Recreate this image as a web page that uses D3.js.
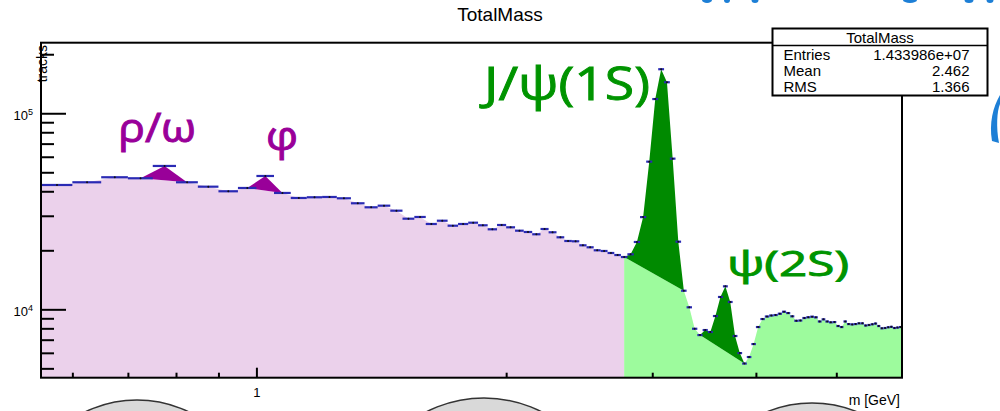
<!DOCTYPE html>
<html>
<head>
<meta charset="utf-8">
<script src="https://cdn.jsdelivr.net/npm/d3@7"></script>
<style>
  body { margin: 0; background: #fff; }
  svg { display: block; }
  text { font-family: "Liberation Sans", Arial, sans-serif; }
  .note { font-family: "Open Sans", sans-serif; }
</style>
</head>
<body>
<svg id="chart" width="1000" height="411"></svg>
<script>
// Histogram "TotalMass": 0.05 GeV bins from 0.55 to 6.0 GeV, track counts per bin
const massMin = 0.55;
const massMax = 6.0;
const binWidth = 0.05;
const counts = [
  43070, 44460, 47160, 46600, 53850, 44460, 42220, 40000, 41580, 47870,
  39220, 36980, 37280, 37410, 36840, 34740, 33140, 33780, 31850, 28990,
  29580, 27240, 28310, 26700, 27240, 27660, 26830, 25590, 26920, 26200,
  25180, 24800, 24140, 25680, 24710, 23300, 22310, 22230, 21210, 20720,
  20000, 19840, 19380, 18920, 18480, 19080, 22050, 29540, 56650, 118150,
  167700, 143900, 58680, 22130, 12440, 10240, 7960, 7390, 7840, 7660,
  9240, 11560, 13100, 10900, 7310, 5980, 5290, 5710, 6650, 8120,
  8920, 9190, 9300, 9350, 9500, 9720, 9570, 9210, 8740, 8770,
  9030, 9110, 9170, 9100, 8670, 8890, 8670, 8580, 8610, 8220,
  8120, 8670, 8410, 8380, 8410, 8480, 8480, 8270, 8320, 8390,
  8460, 8220, 8000, 8030, 8100, 8140, 8030, 8070, 8120
];

// Resonances: bin ranges whose end points define the straight continuum underneath
const peakNames = ["ρ/ω", "φ", "J/ψ(1S)", "ψ(2S)"];
const peakFirstBin = [3, 8, 44, 57];
const peakLastBin = [5, 10, 54, 66];
const charmoniumFromBin = 44;   // continuum above this bin is shaded as the charmonium region

// Axis ticks
const yMajorTicks = [1e4, 1e5];
const yMinorTicks = [5000, 6000, 7000, 8000, 9000, 20000, 30000, 40000, 50000,
                     60000, 70000, 80000, 90000, 200000];
const xMajorTicks = [1];
const xMinorTicks = [0.6, 0.7, 0.8, 0.9, 2, 3, 4, 5];

// Statistics box
const statTitle = "TotalMass";
const statLabels = ["Entries", "Mean", "RMS"];
const statValues = ["1.433986e+07", "2.462", "1.366"];

// ---------------------------------------------------------------------------
const svg = d3.select("#chart");
const frame = { left: 41, right: 902, top: 42.7, bottom: 377.7 };

const x = d3.scaleLog().domain([massMin, massMax]).range([frame.left, frame.right]);
const y = d3.scaleLog().domain([4480, 229000]).range([frame.bottom, frame.top]);

const bins = counts.map((c, i) => {
  const lo = massMin + i * binWidth;
  return { i, lo, hi: lo + binWidth, mid: lo + binWidth / 2, count: c };
});

const peakColor = ["#990099", "#990099", "#008a00", "#008a00"];
const noteColor = ["#990099", "#990099", "#009400", "#009400"];

// slide decorations around the canvas
const deco = svg.append("g");
[[137, 519, 119], [484, 525, 127], [812, 523, 120]].forEach(([cx, cy, r]) => {
  deco.append("circle").attr("cx", cx).attr("cy", cy).attr("r", r)
    .attr("fill", "#d9d9d9").attr("stroke", "#333").attr("stroke-width", 1.5);
});
deco.append("path")
  .attr("d", "M1000,95 C993,107 989,123 992,141 L999,143 C996,127 997,111 1000,104 Z")
  .attr("fill", "#1d7fd6");
[[707, 5], [727, 3], [755, 3.5], [910, 7], [969, 4.5], [990, 3.5]].forEach(([cx, rx]) => {
  deco.append("ellipse").attr("cx", cx).attr("cy", 0).attr("rx", rx).attr("ry", 3)
    .attr("fill", "#1d7fd6");
});

// Continuum line: data polyline, bridged straight across each resonance
const inside = new Set();
peakFirstBin.forEach((a, k) => { for (let i = a + 1; i < peakLastBin[k]; i++) inside.add(i); });
const continuum = [[massMin, counts[0]]];
bins.forEach(b => { if (!inside.has(b.i)) continuum.push([b.mid, b.count]); });
continuum.push([massMax, counts[counts.length - 1]]);

const splitMass = bins[charmoniumFromBin].mid;
const area = d3.area()
  .x(d => x(d[0])).y0(frame.bottom).y1(d => y(d[1]));

svg.append("path")
  .attr("d", area(continuum.filter(d => d[0] <= splitMass)))
  .attr("fill", "#ebd1eb");
svg.append("path")
  .attr("d", area(continuum.filter(d => d[0] >= splitMass)))
  .attr("fill", "#9dfb9d");

// Resonance signal above the continuum
const line = d3.line().x(d => x(d.mid)).y(d => y(d.count));
peakFirstBin.forEach((a, k) => {
  svg.append("path")
    .attr("d", line(bins.slice(a, peakLastBin[k] + 1)) + "Z")
    .attr("fill", peakColor[k]);
});

// Bin markers with horizontal error bars
const marks = svg.append("g");
marks.selectAll("line").data(bins).join("line")
  .attr("x1", d => x(d.lo)).attr("x2", d => x(d.hi))
  .attr("y1", d => y(d.count)).attr("y2", d => y(d.count))
  .attr("stroke", "#2a2ab4").attr("stroke-width", 2.2);
marks.selectAll("circle").data(bins).join("circle")
  .attr("cx", d => x(d.mid)).attr("cy", d => y(d.count)).attr("r", 1)
  .attr("fill", "#111");

// Axes (ticks pointing inwards)
function axisStyle(g) {
  g.select(".domain").remove();
  g.selectAll(".tick line").attr("stroke", "#000").attr("stroke-width", 2);
}
svg.append("g").attr("transform", `translate(${frame.left},0)`)
  .call(d3.axisLeft(y).tickValues(yMinorTicks).tickSizeInner(-13).tickSizeOuter(0).tickFormat(""))
  .call(axisStyle);
const yMajor = svg.append("g").attr("transform", `translate(${frame.left},0)`)
  .call(d3.axisLeft(y).tickValues(yMajorTicks).tickSizeInner(-25).tickSizeOuter(0).tickPadding(8))
  .call(axisStyle);
yMajor.selectAll(".tick text").each(function (d) {
  const t = d3.select(this).text("").attr("font-size", 13).attr("fill", "#000")
    .attr("font-family", "Liberation Sans, Arial, sans-serif").attr("dy", "0.5em");
  t.append("tspan").text("10");
  t.append("tspan").text(Math.round(Math.log10(d))).attr("font-size", 9).attr("dy", "-0.6em");
});

svg.append("g").attr("transform", `translate(0,${frame.bottom})`)
  .call(d3.axisBottom(x).tickValues(xMinorTicks).tickSizeInner(-5).tickSizeOuter(0).tickFormat(""))
  .call(axisStyle);
svg.append("g").attr("transform", `translate(0,${frame.bottom})`)
  .call(d3.axisBottom(x).tickValues(xMajorTicks).tickSizeInner(-10).tickSizeOuter(0).tickPadding(10).tickFormat(d3.format("d")))
  .call(axisStyle)
  .call(g => g.selectAll(".tick text").attr("font-size", 13).attr("fill", "#000")
    .attr("font-family", "Liberation Sans, Arial, sans-serif"));

// Frame
svg.append("rect")
  .attr("x", frame.left).attr("y", frame.top)
  .attr("width", frame.right - frame.left).attr("height", frame.bottom - frame.top)
  .attr("fill", "none").attr("stroke", "#000").attr("stroke-width", 2);

// Titles
svg.append("text").attr("x", 500).attr("y", 21).attr("text-anchor", "middle")
  .attr("font-size", 19).text("TotalMass");
svg.append("text").attr("transform", "translate(47,45) rotate(-90)")
  .attr("text-anchor", "end").attr("font-size", 14).text("tracks");
svg.append("text").attr("x", 900).attr("y", 405).attr("text-anchor", "end")
  .attr("font-size", 14).text("m [GeV]");

// Resonance labels
const notePos = [[118, 142, 78, 40], [266, 150, 32, 40], [484, 100, 166, 45], [727, 276, 122, 34]];
peakNames.forEach((name, k) => {
  const [nx, ny, w, fs] = notePos[k];
  svg.append("text").attr("class", "note")
    .attr("x", nx).attr("y", ny).attr("font-size", fs)
    .attr("textLength", w).attr("lengthAdjust", "spacingAndGlyphs")
    .attr("fill", noteColor[k]).attr("stroke", noteColor[k]).attr("stroke-width", 0.9)
    .text(name);
});

// Statistics box
const box = svg.append("g");
box.append("rect").attr("x", 772.5).attr("y", 28.5).attr("width", 215).attr("height", 67)
  .attr("fill", "#fff").attr("stroke", "#000").attr("stroke-width", 2);
box.append("line").attr("x1", 772.5).attr("x2", 987.5).attr("y1", 45.5).attr("y2", 45.5)
  .attr("stroke", "#000").attr("stroke-width", 1.5);
box.append("text").attr("x", 880).attr("y", 43).attr("text-anchor", "middle")
  .attr("font-size", 15).text(statTitle);
statLabels.forEach((s, k) => {
  box.append("text").attr("x", 783.5).attr("y", 59.5 + k * 16.2).attr("font-size", 15).text(s);
  box.append("text").attr("x", 969.5).attr("y", 59.5 + k * 16.2).attr("font-size", 15)
    .attr("text-anchor", "end").text(statValues[k]);
});
</script>
</body>
</html>
